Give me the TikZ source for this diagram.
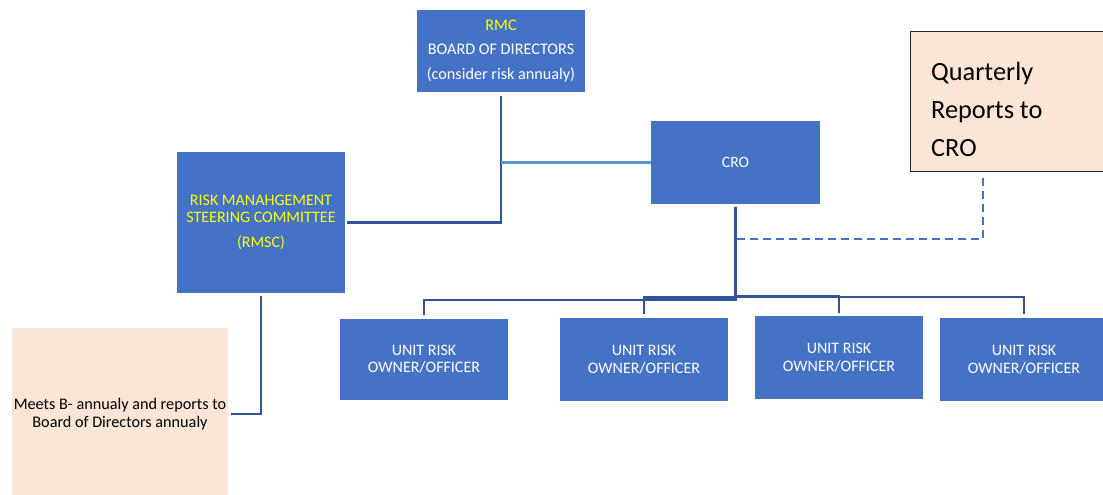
\documentclass[tikz,border=0pt]{standalone}
\usepackage{fontspec}
\setmainfont{Carlito}
\definecolor{boxblue}{HTML}{4472C4}
\definecolor{linkblue}{HTML}{2F5597}
\definecolor{lightlink}{HTML}{5B9BD5}
\definecolor{peach}{HTML}{FBE5D6}
\definecolor{hilite}{HTML}{FFFF00}
\begin{document}
\begin{tikzpicture}[x=1pt,y=-1pt,
  box/.style={rectangle, fill=boxblue, text=white, align=center, inner sep=0pt},
  unitbox/.style={box, minimum width=168pt, minimum height=81pt,
    font=\fontsize{16}{17.5}\selectfont},
  note/.style={rectangle, fill=peach, align=center, inner sep=0pt},
  conn/.style={draw=linkblue, line width=2.6pt},
  lightconn/.style={draw=lightlink, line width=3pt},
  dashconn/.style={draw=boxblue, line width=1.8pt, dash pattern=on 8pt off 5pt}]
\useasboundingbox (0,0) rectangle (1103,495);

% top level boxes
\node[box, minimum width=168pt, minimum height=82pt,
  font=\fontsize{16.2}{24.5}\selectfont] (rmc) at (501,51)
  {\textcolor{hilite}{RMC}\\BOARD OF DIRECTORS\\(consider risk annualy)};
\node[box, minimum width=169pt, minimum height=83pt,
  font=\fontsize{15.8}{18}\selectfont] (cro) at (735.5,162.5) {CRO};
\node[box, minimum width=168pt, minimum height=141pt, text=hilite,
  font=\fontsize{16}{17.5}\selectfont] (rmsc) at (261,222.5)
  {RISK MANAHGEMENT\\STEERING COMMITTEE\\[7.5pt](RMSC)};

% side notes
\node[note, minimum width=216pt, minimum height=172pt,
  font=\fontsize{16.2}{18}\selectfont] (meets) at (120,414)
  {Meets B- annualy and reports to\\Board of Directors annualy};
\node[note, draw=black!85, line width=1pt, anchor=north west,
  minimum width=200pt, minimum height=140pt] (q) at (910,31) {};
\node[anchor=north west, align=left, inner sep=0pt,
  font=\fontsize{26.3}{37.8}\selectfont] (qtext) at (931,62.5)
  {Quarterly\\Reports to\\CRO};

% unit risk owners
\node[unitbox] (u1) at (424,359) {UNIT RISK\\OWNER/OFFICER};
\node[unitbox, minimum height=83pt] (u2) at (644,359.5) {UNIT RISK\\OWNER/OFFICER};
\node[unitbox, minimum height=83pt] (u3) at (839,357.5) {UNIT RISK\\OWNER/OFFICER};
\node[unitbox, minimum height=83pt] (u4) at (1024,359.5) {UNIT RISK\\OWNER/OFFICER};

% reporting lines
\draw[conn] ([yshift=-3.5pt]rmc.south) |- ([xshift=2pt]rmsc.east);
\draw[lightconn] (rmc.south |- cro.west) -- (cro.west);
\draw[conn] ([yshift=-3pt]rmsc.south) |- ([xshift=3pt]meets.east);

\draw[conn] ([yshift=-3pt]cro.south) -- (cro.south |- 0,300) -| ([yshift=3pt]u1.north);
\draw[conn] (cro.south |- 0,297.5) -| ([yshift=4pt]u2.north);
\draw[conn] (cro.south |- 0,296) -| ([yshift=3pt]u3.north);
\draw[conn] (cro.south |- 0,297) -| ([yshift=4pt]u4.north);

\draw[dashconn] ([xshift=1.5pt]cro.south |- 0,239) -| ([yshift=-3pt]q.south west -| 983,0);
\end{tikzpicture}
\end{document}
